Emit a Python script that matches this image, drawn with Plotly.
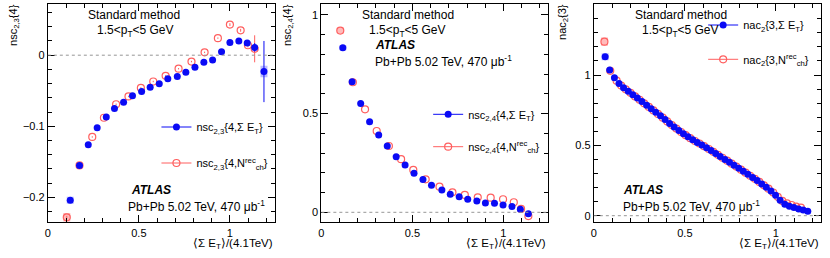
import plotly.graph_objects as go

W, H = 830, 258

# ---------------- data ----------------
# panel 1: nsc_{2,3}{4}
x1_et = [0.123, 0.174, 0.222, 0.271, 0.321, 0.366, 0.416, 0.465, 0.515, 0.562, 0.612, 0.659,
         0.711, 0.758, 0.808, 0.857, 0.905, 0.954, 1.000, 1.049, 1.095, 1.136, 1.187]
y1_et = [-0.204, -0.155, -0.126, -0.102, -0.087, -0.075, -0.066, -0.057, -0.051, -0.045, -0.040,
         -0.033, -0.030, -0.024, -0.017, -0.010, -0.0066, 0.005, 0.018, 0.020, 0.017, 0.011, -0.023]
e1_et = [0.002, 0.001, 0.001, 0.001, 0.001, 0.001, 0.001, 0.001, 0.001, 0.001, 0.001, 0.001,
         0.001, 0.001, 0.001, 0.001, 0.001, 0.001, 0.002, 0.002, 0.003, 0.006, 0.043]
s1_et = [0.005, 0, 0, 0, 0, 0, 0, 0, 0, 0, 0, 0, 0, 0, 0, 0, 0, 0, 0, 0, 0, 0, 0.008]

x1_nch = [0.104, 0.174, 0.244, 0.308, 0.375, 0.443, 0.511, 0.579, 0.647, 0.718, 0.789, 0.861,
          0.934, 1.000, 1.059, 1.099, 1.136]
y1_nch = [-0.228, -0.155, -0.115, -0.088, -0.069, -0.058, -0.046, -0.037, -0.029, -0.019, -0.009,
          0.004, 0.024, 0.043, 0.035, 0.014, 0.009]
e1_nch = [0.002, 0.001, 0.001, 0.001, 0.001, 0.001, 0.001, 0.001, 0.001, 0.001, 0.001, 0.001,
          0.001, 0.002, 0.002, 0.003, 0.019]
s1_nch = [0.006, 0, 0, 0, 0, 0, 0, 0, 0, 0, 0, 0, 0, 0, 0, 0, 0]

# panel 2: nsc_{2,4}{4}
x2_et = [0.118, 0.169, 0.216, 0.265, 0.315, 0.362, 0.411, 0.460, 0.509, 0.558, 0.605, 0.662,
         0.708, 0.757, 0.804, 0.854, 0.901, 0.951, 0.998, 1.047, 1.093, 1.137]
y2_et = [0.834, 0.662, 0.552, 0.459, 0.392, 0.336, 0.282, 0.240, 0.198, 0.166, 0.137, 0.113,
         0.091, 0.079, 0.066, 0.057, 0.047, 0.046, 0.037, 0.030, 0.015, -0.007]
s2_et = [0.013, 0, 0, 0, 0, 0, 0, 0, 0, 0, 0, 0, 0, 0, 0, 0, 0, 0, 0, 0, 0, 0]

x2_nch = [0.104, 0.173, 0.240, 0.304, 0.371, 0.438, 0.505, 0.573, 0.649, 0.720, 0.788, 0.859,
          0.930, 0.998, 1.057, 1.097, 1.137]
y2_nch = [0.921, 0.659, 0.522, 0.412, 0.336, 0.269, 0.215, 0.167, 0.130, 0.101, 0.088, 0.076,
          0.074, 0.066, 0.051, 0.017, -0.019]
s2_nch = [0.015, 0, 0, 0, 0, 0, 0, 0, 0, 0, 0, 0, 0, 0, 0, 0, 0]

# panel 3: nac_2{3}
x3_et = [0.062, 0.087, 0.113, 0.138, 0.163, 0.189, 0.214, 0.239, 0.264, 0.290, 0.315, 0.340,
         0.366, 0.391, 0.416, 0.441, 0.467, 0.492, 0.517, 0.543, 0.568, 0.593, 0.619, 0.644,
         0.669, 0.694, 0.720, 0.745, 0.770, 0.796, 0.821, 0.846, 0.872, 0.897, 0.922, 0.947,
         0.973, 0.998, 1.023, 1.049, 1.074, 1.099, 1.125, 1.150, 1.175]
y3_et = [1.130, 1.035, 0.980, 0.940, 0.910, 0.885, 0.860, 0.836, 0.811, 0.785, 0.760, 0.735,
         0.710, 0.683, 0.656, 0.631, 0.606, 0.582, 0.561, 0.540, 0.520, 0.503, 0.483, 0.463,
         0.442, 0.421, 0.400, 0.380, 0.358, 0.337, 0.316, 0.294, 0.272, 0.250, 0.226, 0.202,
         0.175, 0.145, 0.110, 0.082, 0.068, 0.058, 0.048, 0.040, 0.031]
s3_et = [0.025] + [0] * 44

x3_nch = [0.058, 0.090, 0.125, 0.150, 0.175, 0.201, 0.226, 0.251, 0.276, 0.302, 0.327, 0.352,
          0.378, 0.403, 0.428, 0.453, 0.479, 0.504, 0.529, 0.555, 0.580, 0.605, 0.631, 0.656,
          0.681, 0.706, 0.732, 0.757, 0.782, 0.808, 0.833, 0.858, 0.884, 0.909, 0.934, 0.959,
          0.985, 1.010, 1.035, 1.061, 1.086, 1.111, 1.137]
y3_nch = [1.237, 1.030, 0.960, 0.925, 0.898, 0.873, 0.848, 0.824, 0.799, 0.773, 0.748, 0.723,
          0.697, 0.670, 0.644, 0.619, 0.595, 0.572, 0.551, 0.531, 0.513, 0.494, 0.474, 0.454,
          0.433, 0.412, 0.391, 0.370, 0.349, 0.327, 0.306, 0.284, 0.262, 0.240, 0.216, 0.192,
          0.165, 0.134, 0.105, 0.088, 0.076, 0.065, 0.058]
s3_nch = [0.03] + [0] * 42

y_titles = ["nsc<sub>2,3</sub>{4}", "nsc<sub>2,4</sub>{4}", "nac<sub>2</sub>{3}"]
x_title = "⟨Σ E<sub>T</sub>⟩/(4.1TeV)"
leg_et = ["nsc<sub>2,3</sub>{4,Σ E<sub>T</sub>}", "nsc<sub>2,4</sub>{4,Σ E<sub>T</sub>}",
          "nac<sub>2</sub>{3,Σ E<sub>T</sub>}"]
leg_nch = ["nsc<sub>2,3</sub>{4,N<sup>rec</sup><sub>ch</sub>}",
           "nsc<sub>2,4</sub>{4,N<sup>rec</sup><sub>ch</sub>}",
           "nac<sub>2</sub>{3,N<sup>rec</sup><sub>ch</sub>}"]

# ---------------- style ----------------
FONT = "Liberation Sans, Arial, sans-serif"
BLUE = "rgb(10,10,245)"
RED = "rgb(255,95,95)"
BLUE_BOX = "rgba(60,60,255,0.35)"
RED_BOX = "rgba(255,60,60,0.35)"

def px(x):
    return x / W

def py(y):
    return 1 - y / H

xdom = [(45, 272.5), (319.5, 547), (593, 820.5)]
ydom = [py(222.3), py(4)]
yranges = [[-0.235, 0.072], [-0.0507, 1.0557], [-0.0469, 1.5046]]
ydticks = [(0.1, 0.02), (0.5, 0.1), (0.5, 0.1)]

panels = [
    (x1_et, y1_et, e1_et, s1_et, x1_nch, y1_nch, e1_nch, s1_nch),
    (x2_et, y2_et, None, s2_et, x2_nch, y2_nch, None, s2_nch),
    (x3_et, y3_et, None, s3_et, x3_nch, y3_nch, None, s3_nch),
]

fig = go.Figure()

for i, (xb, yb, eb, sb, xr, yr, er, sr) in enumerate(panels):
    xa = "x" if i == 0 else f"x{i+1}"
    ya = "y" if i == 0 else f"y{i+1}"
    # systematic boxes
    for xs, ys, ss, col in [(xr, yr, sr, RED_BOX), (xb, yb, sb, BLUE_BOX)]:
        fig.add_trace(go.Scatter(
            x=xs, y=ys, mode="markers", xaxis=xa, yaxis=ya, showlegend=False,
            marker=dict(size=1, color="rgba(0,0,0,0)"),
            error_y=dict(type="data", array=ss, visible=True, color=col, thickness=7, width=0),
            hoverinfo="skip"))
    # N_ch (open red)
    fig.add_trace(go.Scatter(
        x=xr, y=yr, mode="markers", xaxis=xa, yaxis=ya, showlegend=False,
        marker=dict(symbol="circle-open", size=7, color=RED, line=dict(width=1.2, color=RED)),
        error_y=(dict(type="data", array=er, visible=True, color=RED, thickness=1, width=0)
                 if er is not None else None)))
    # Sum ET (filled blue)
    fig.add_trace(go.Scatter(
        x=xb, y=yb, mode="markers", xaxis=xa, yaxis=ya, showlegend=False,
        marker=dict(symbol="circle", size=7, color=BLUE),
        error_y=(dict(type="data", array=eb, visible=True, color=BLUE, thickness=1, width=0)
                 if eb is not None else None)))

# legends (one per entry)
leg_pos = [((194, 127), (194, 163)), ((466.7, 114.3), (466.7, 146.7)), ((742.7, 25), (742.7, 59.3))]
lg = 1
layout_legends = {}
for i in range(3):
    xa = "x" if i == 0 else f"x{i+1}"
    ya = "y" if i == 0 else f"y{i+1}"
    for j, (name, mk, col) in enumerate([
            (leg_et[i], dict(symbol="circle", size=7, color=BLUE), BLUE),
            (leg_nch[i], dict(symbol="circle-open", size=7, color=RED, line=dict(width=1.2, color=RED)), RED)]):
        lname = "legend" if lg == 1 else f"legend{lg}"
        fig.add_trace(go.Scatter(x=[None], y=[None], mode="lines+markers", name=name,
                                 xaxis=xa, yaxis=ya, marker=mk, line=dict(color=col, width=1),
                                 legend=lname, showlegend=True))
        tx, ty = leg_pos[i][j]
        layout_legends[lname] = dict(x=px(tx - 40), y=py(ty), xanchor="left", yanchor="middle",
                                     bgcolor="rgba(0,0,0,0)", itemwidth=30,
                                     font=dict(family=FONT, size=11, color="black"))
        lg += 1

fig.update_layout(**layout_legends)

axis_common = dict(showline=True, linecolor="black", linewidth=1, mirror="allticks",
                   ticks="inside", ticklen=7, tickcolor="black", showgrid=False, zeroline=False,
                   tickfont=dict(family=FONT, size=11, color="black"))

for i in range(3):
    xk = "xaxis" if i == 0 else f"xaxis{i+1}"
    yk = "yaxis" if i == 0 else f"yaxis{i+1}"
    ya = "y" if i == 0 else f"y{i+1}"
    xa = "x" if i == 0 else f"x{i+1}"
    fig.update_layout({
        xk: dict(domain=[px(xdom[i][0]), px(xdom[i][1])], range=[0, 1.245], anchor=ya,
                 dtick=0.5, tick0=0, tickformat="~g",
                 minor=dict(dtick=0.1, ticks="inside", ticklen=4, tickcolor="black"),
                 **axis_common),
        yk: dict(domain=ydom, range=yranges[i], anchor=xa, dtick=ydticks[i][0], tick0=0,
                 tickformat="~g",
                 minor=dict(dtick=ydticks[i][1], ticks="inside", ticklen=4, tickcolor="black"),
                 **axis_common),
    })
    fig.add_shape(type="line", xref=f"{xa} domain", yref=ya, x0=0, x1=1, y0=0, y1=0,
                  line=dict(color="rgb(150,150,150)", width=1, dash="dot"))

ann = []
def text(x, y, s, xanchor="center", size=12, yanchor="middle", angle=0):
    ann.append(dict(x=px(x), y=py(y), xref="paper", yref="paper", text=s, showarrow=False,
                    xanchor=xanchor, yanchor=yanchor, textangle=angle,
                    font=dict(family=FONT, size=size, color="black")))

std = "Standard method"
pt = "1.5&lt;p<sub>T</sub>&lt;5 GeV"
atl = "<b><i>ATLAS</i></b>"
pb = "Pb+Pb 5.02 TeV, 470 μb<sup>-1</sup>"

text(131.7, 15, std); text(132.5, 31, pt)
text(126.7, 190, atl, "left"); text(123.3, 206, pb, "left")
text(406, 15, std); text(406, 31, pt)
text(371.7, 45, atl, "left"); text(371.7, 61, pb, "left")
text(680, 15, std); text(680, 31, pt)
text(620.7, 190, atl, "left"); text(620.7, 206, pb, "left")

for i, (xc, xr) in enumerate([(11, 272.5), (286, 547), (562, 820.5)]):
    text(xc, 2, y_titles[i], "center", 11, "top", -90)
    text(xr, 244, x_title, "right", 11.5, "middle")

fig.update_layout(annotations=ann, width=W, height=H,
                  margin=dict(l=0, r=0, t=0, b=0),
                  paper_bgcolor="white", plot_bgcolor="white",
                  font=dict(family=FONT, size=12, color="black"))

fig.write_html("out.html", config={"displayModeBar": False},
               post_script="document.body.style.margin='0px';")
